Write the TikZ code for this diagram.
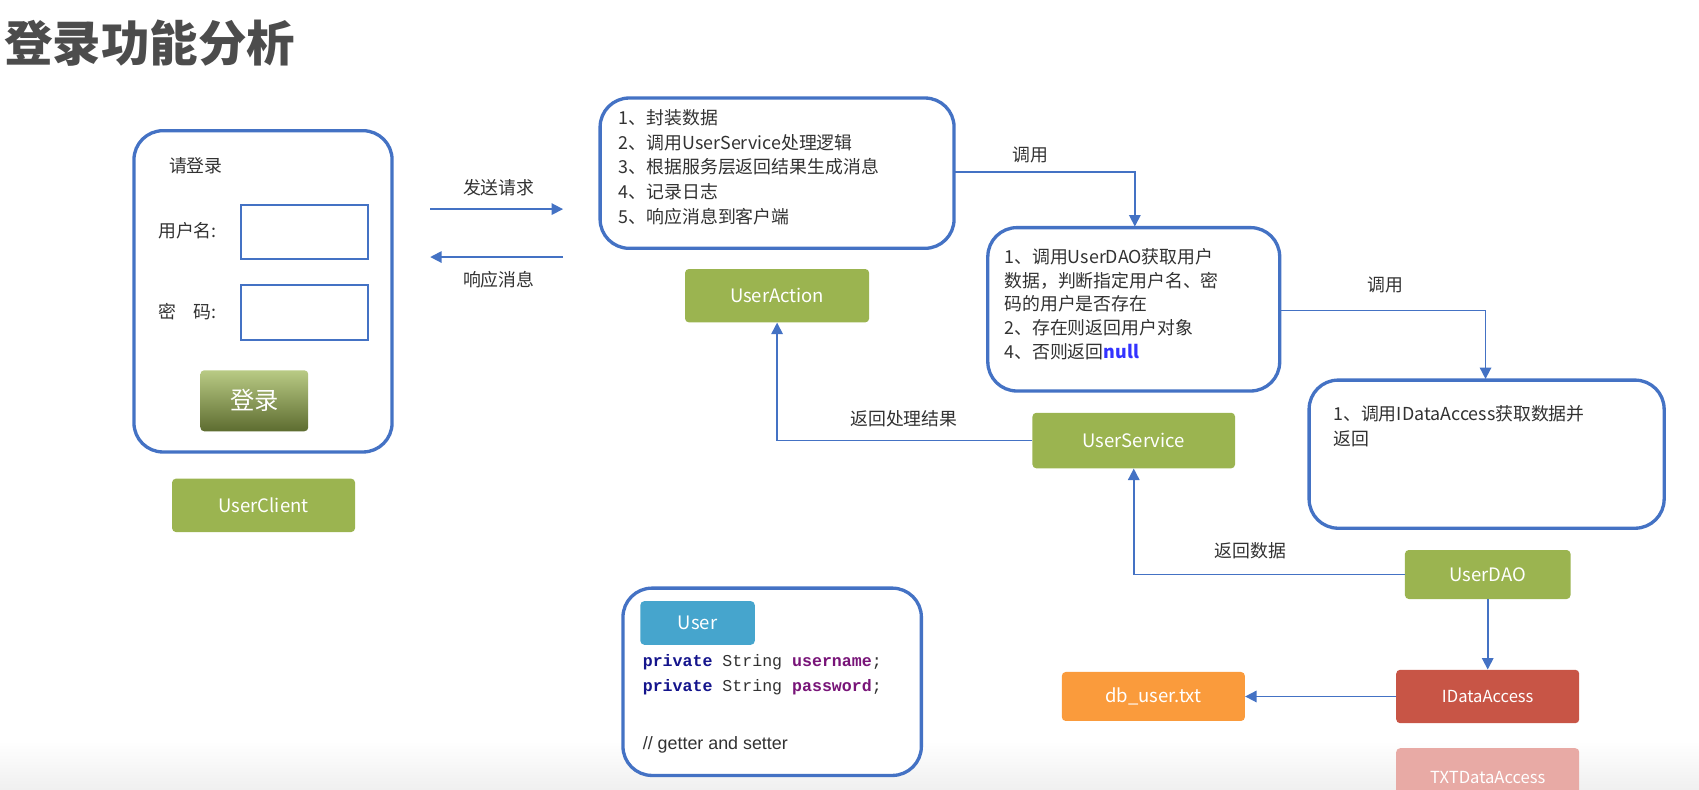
\documentclass[tikz,border=0pt]{standalone}
\usepackage{fontspec}
\setmainfont{Noto Sans CJK SC}
\newfontfamily\codefont{Liberation Mono}
\newfontfamily\sansfont{Liberation Sans}
\usetikzlibrary{arrows.meta}
\definecolor{bl}{RGB}{68,114,196}
\definecolor{gr}{RGB}{155,180,80}
\definecolor{rd}{RGB}{200,85,70}
\definecolor{pk}{RGB}{232,170,165}
\definecolor{og}{RGB}{250,155,60}
\definecolor{cy}{RGB}{70,165,205}
\definecolor{tx}{RGB}{50,50,50}
\definecolor{navy}{RGB}{20,20,140}
\definecolor{purp}{RGB}{120,20,120}
\newcommand{\U}{0.03cm}
\begin{document}
\begin{tikzpicture}[x=0.03cm,y=-0.03cm,
  panel/.style={draw=bl,line width=2.6pt,rounded corners=0.8cm,fill=white},
  tag/.style={rounded corners=3pt,text=white,font=\fontsize{14.5}{17}\selectfont},
  lbl/.style={text=tx,font=\fontsize{14}{16}\selectfont,inner sep=0},
  arr/.style={draw=bl,line width=1.3pt,-{Triangle[length=9pt,width=9pt]}},
  body/.style={anchor=north west,align=left,text=tx,font=\fontsize{14}{19.5}\selectfont,inner sep=0}]
\useasboundingbox (0,0) rectangle (1560,725);
\shade[top color=white,bottom color=gray!12] (0,680) rectangle (1560,725);
\node[anchor=west,text=black!70,font=\fontsize{38}{40}\selectfont\bfseries] (title) at (0,40) {登录功能分析};
% client
\draw[panel] (123,120) rectangle (360,415);
\node[lbl,anchor=west] (qdl) at (155,152) {请登录};
\node[lbl,anchor=west] (un) at (145,212) {用户名:};
\draw[bl,line width=1.8pt] (221,188) rectangle (338,238);
\node[lbl,anchor=west] (pw) at (145,286) {密\quad 码:};
\draw[bl,line width=1.8pt] (221,262) rectangle (338,312);
\node[tag,minimum width=99*\U,minimum height=56*\U,top color=gr!70!white,bottom color=gr!60!black,font=\fontsize{19}{22}\selectfont] (btn) at (233.5,368) {登录};
\node[tag,fill=gr,minimum width=168*\U,minimum height=49*\U] (client) at (242,464) {UserClient};
% action
\draw[panel] (551,90) rectangle (876,228);
\node[body] (atext) at (568,100) {1、封装数据\\2、调用UserService处理逻辑\\3、根据服务层返回结果生成消息\\4、记录日志\\5、响应消息到客户端};
\node[tag,fill=gr,minimum width=169*\U,minimum height=49*\U] (action) at (713.5,271.5) {UserAction};
\coordinate (s1) at (395,192); \coordinate (e1) at (517,192);
\draw[arr] (s1) -- (e1);
\node[lbl] (l1) at (458,172) {发送请求};
\coordinate (s2) at (517,236); \coordinate (e2) at (395,236);
\draw[arr] (s2) -- (e2);
\node[lbl] (l2) at (458,257) {响应消息};
% service
\draw[panel] (907,209) rectangle (1175,359);
\node[body,font=\fontsize{14}{18.5}\selectfont] (stext) at (922,228) {1、调用UserDAO获取用户\\数据，判断指定用户名、密\\码的用户是否存在\\2、存在则返回用户对象\\4、否则返回\textcolor{blue!80}{\bfseries null}};
\node[tag,fill=gr,minimum width=186*\U,minimum height=51*\U] (service) at (1041,404.5) {UserService};
\coordinate (a1) at (876,158);
\draw[arr] (a1) -| (1042,208);
\node[lbl] (l3) at (946,142) {调用};
% dao
\draw[panel] (1202,349) rectangle (1528,485);
\node[body] (dtext) at (1224,372) {1、调用IDataAccess获取数据并\\返回};
\coordinate (a2) at (1175,285);
\draw[arr] (a2) -| (1364,348);
\node[lbl] (l4) at (1272,262) {调用};
\node[tag,fill=gr,minimum width=152*\U,minimum height=45*\U] (dao) at (1366,527.5) {UserDAO};
\draw[arr] (service.west) -| (action.south);
\node[lbl] (l5) at (830,384) {返回处理结果};
\draw[arr] (dao.west) -| (service.south);
\node[lbl] (l6) at (1148,506) {返回数据};
\node[tag,fill=rd,minimum width=168*\U,minimum height=49*\U,font=\fontsize{13}{15}\selectfont] (ida) at (1366,639.5) {IDataAccess};
\node[tag,fill=og,minimum width=168*\U,minimum height=45*\U] (db) at (1059,639.5) {db\_user.txt};
\node[tag,fill=pk,minimum width=168*\U,minimum height=53*\U,font=\fontsize{13}{15}\selectfont] (txt) at (1366,713.5) {TXTDataAccess};
\draw[arr] (dao.south) -- (ida.north);
\draw[arr] (ida.west) -- (db.east);
% user
\draw[panel] (572,540) rectangle (846,712);
\node[tag,fill=cy,minimum width=105*\U,minimum height=40*\U] (user) at (640.5,572) {User};
\node[body,font=\codefont\fontsize{13}{19}\selectfont] (code) at (590,601) {\textcolor{navy}{\bfseries private} String \textcolor{purp}{\bfseries username};\\\textcolor{navy}{\bfseries private} String \textcolor{purp}{\bfseries password};};
\node[body,font=\sansfont\fontsize{14}{16}\selectfont] (cmt) at (590,676) {// getter and setter};
\end{tikzpicture}
\end{document}
